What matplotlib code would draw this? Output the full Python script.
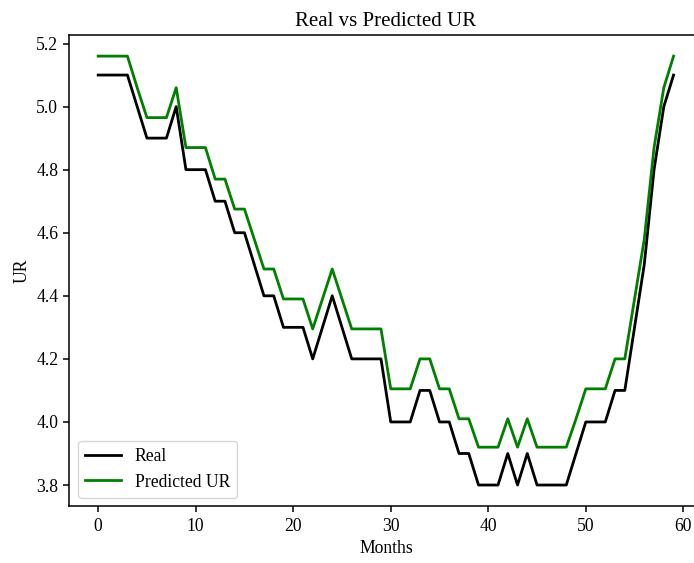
import matplotlib
matplotlib.use("Agg")
import matplotlib.pyplot as plt

months = list(range(60))

real = [5.1, 5.1, 5.1, 5.1, 5.0, 4.9, 4.9, 4.9, 5.0, 4.8,
        4.8, 4.8, 4.7, 4.7, 4.6, 4.6, 4.5, 4.4, 4.4, 4.3,
        4.3, 4.3, 4.2, 4.3, 4.4, 4.3, 4.2, 4.2, 4.2, 4.2,
        4.0, 4.0, 4.0, 4.1, 4.1, 4.0, 4.0, 3.9, 3.9, 3.8,
        3.8, 3.8, 3.9, 3.8, 3.9, 3.8, 3.8, 3.8, 3.8, 3.9,
        4.0, 4.0, 4.0, 4.1, 4.1, 4.3, 4.5, 4.8, 5.0, 5.1]

predicted = [5.16, 5.16, 5.16, 5.16, 5.06, 4.965, 4.965, 4.965, 5.06, 4.87,
             4.87, 4.87, 4.77, 4.77, 4.675, 4.675, 4.58, 4.485, 4.485, 4.39,
             4.39, 4.39, 4.295, 4.39, 4.485, 4.39, 4.295, 4.295, 4.295, 4.295,
             4.105, 4.105, 4.105, 4.20, 4.20, 4.105, 4.105, 4.01, 4.01, 3.92,
             3.92, 3.92, 4.01, 3.92, 4.01, 3.92, 3.92, 3.92, 3.92, 4.01,
             4.105, 4.105, 4.105, 4.20, 4.20, 4.39, 4.58, 4.87, 5.06, 5.16]

plt.rcParams["font.family"] = ["Liberation Serif", "DejaVu Serif"]

fig = plt.figure(figsize=(6.94, 5.63), dpi=100)
ax = fig.add_axes([0.1, 0.1004, 0.912, 0.838])

ax.plot(months, real, color="black", linewidth=2.0, label="Real")
ax.plot(months, predicted, color="green", linewidth=2.0, label="Predicted UR")

ax.set_title("Real vs Predicted UR", fontsize=15)
ax.set_xlabel("Months", fontsize=12.7)
ax.set_ylabel("UR", fontsize=12.7)
ax.tick_params(labelsize=12.7, width=1.1, length=4.5)
for spine in ax.spines.values():
    spine.set_linewidth(1.1)
ax.set_xticks([0, 10, 20, 30, 40, 50, 60])
ax.set_yticks([3.8, 4.0, 4.2, 4.4, 4.6, 4.8, 5.0, 5.2])
ax.legend(loc="lower left", fontsize=12.7)

fig.savefig("out.png", dpi=100)
